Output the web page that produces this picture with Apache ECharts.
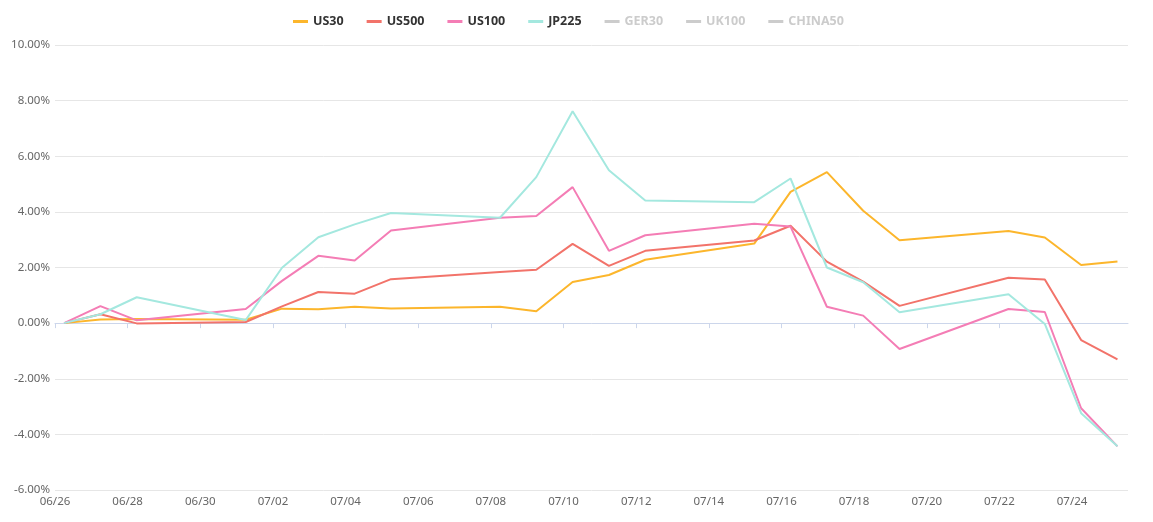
<!DOCTYPE html>
<html>
<head>
<meta charset="utf-8">
<script src="https://cdn.jsdelivr.net/npm/echarts@6/dist/echarts.min.js"></script>
<style>
html,body{margin:0;padding:0;background:#fff;}
#chart{width:1153px;height:522px;}
</style>
</head>
<body>
<div id="chart"></div>
<script>
var dates = ['2024-06-26','2024-06-27','2024-06-28','2024-07-01','2024-07-02','2024-07-03','2024-07-04','2024-07-05',
  '2024-07-08','2024-07-09','2024-07-10','2024-07-11','2024-07-12','2024-07-15','2024-07-16','2024-07-17',
  '2024-07-18','2024-07-19','2024-07-22','2024-07-23','2024-07-24','2024-07-25'];
var us30  = [0, 0.13, 0.15, 0.12, 0.52, 0.50, 0.59, 0.53, 0.59, 0.43, 1.48, 1.73, 2.28, 2.86, 4.72, 5.43, 4.04, 2.98, 3.31, 3.08, 2.09, 2.22];
var us500 = [0, 0.32, -0.01, 0.04, 0.60, 1.12, 1.06, 1.58, 1.84, 1.92, 2.85, 2.06, 2.60, 2.97, 3.50, 2.21, 1.49, 0.62, 1.63, 1.57, -0.61, -1.30];
var us100 = [0, 0.61, 0.10, 0.51, 1.52, 2.42, 2.25, 3.33, 3.79, 3.85, 4.89, 2.60, 3.16, 3.57, 3.47, 0.59, 0.27, -0.93, 0.51, 0.40, -3.06, -4.43];
var jp225 = [0, 0.32, 0.93, 0.11, 1.99, 3.09, 3.55, 3.96, 3.79, 5.25, 7.62, 5.50, 4.41, 4.35, 5.20, 2.00, 1.47, 0.39, 1.04, -0.03, -3.24, -4.43];
var ger30 = [];
var uk100 = [];
var china50 = [];
var seriesNames = ['US30','US500','US100','JP225','GER30','UK100','CHINA50'];
var yTicks = {min: -6, max: 10, step: 2};

var DAY = 86400000;
var tsOf = function(d){ return Date.parse(d + 'T06:00:00Z'); };
var xs = dates.map(tsOf);
function pairs(vals){ return vals.map(function(v,i){ return [xs[i], v]; }); }
var xMin = Date.parse('2024-06-26T00:00:00Z');
var xMax = xMin + 29.54 * DAY;

var colors = ['#fcb62c','#f2736a','#f47db5','#a4e8df','#7cb5ec','#90ed7d','#8085e9'];
var seriesData = [us30, us500, us100, jp225, ger30, uk100, china50];

var chart = echarts.init(document.getElementById('chart'));
chart.setOption({
  animation: false,
  color: colors,
  textStyle: {fontFamily: 'Noto Sans'},
  legend: {
    top: 10,
    left: 288,
    icon: 'rect',
    itemWidth: 15,
    itemHeight: 3,
    itemGap: 23,
    textStyle: {fontSize: 12.5, fontWeight: 'bold', color: '#333', fontFamily: 'Noto Sans'},
    inactiveColor: '#cccccc',
    data: seriesNames,
    selected: {GER30: false, UK100: false, CHINA50: false}
  },
  grid: {left: 55, right: 25, top: 45, bottom: 32, containLabel: false},
  xAxis: {
    type: 'value',
    min: xMin,
    max: xMax,
    interval: 2 * DAY,
    axisLine: {lineStyle: {color: '#ccd6eb'}},
    axisTick: {show: true, length: 5, lineStyle: {color: '#ccd6eb'}},
    splitLine: {show: false},
    axisLabel: {
      color: '#666', fontSize: 11.5, margin: 6, showMaxLabel: false,
      formatter: function(v){
        var d = new Date(v);
        var m = d.getUTCMonth()+1, dd = d.getUTCDate();
        return (m<10?'0':'')+m + '/' + (dd<10?'0':'')+dd;
      }
    }
  },
  yAxis: {
    type: 'value',
    min: yTicks.min,
    max: yTicks.max,
    interval: yTicks.step,
    axisLine: {show: false},
    axisTick: {show: false},
    splitLine: {lineStyle: {color: '#e6e6e6'}},
    axisLabel: {color: '#666', fontSize: 11.5, margin: 5,
      formatter: function(v){ return v.toFixed(2) + '%'; }}
  },
  series: seriesNames.map(function(n, i){
    return {
      name: n,
      type: 'line',
      data: pairs(seriesData[i]),
      showSymbol: false,
      symbol: 'none',
      lineStyle: {width: 2, color: colors[i]},
      itemStyle: {color: colors[i]}
    };
  })
});
</script>
</body>
</html>
